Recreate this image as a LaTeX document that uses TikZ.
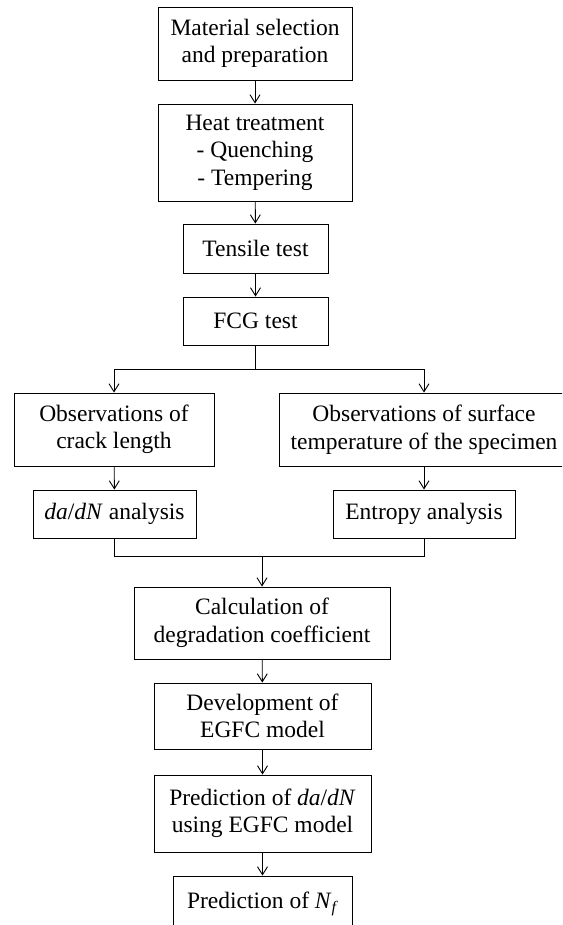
\documentclass[tikz,border=0pt]{standalone}
\usepackage{fontspec}
\setmainfont{Liberation Serif}
\usetikzlibrary{arrows.meta}
\begin{document}
\begin{tikzpicture}[x=1pt,y=1pt,
  box/.style={draw=black, line width=0.9pt, inner sep=0pt, align=center,
    font=\fontsize{23.5}{27.5}\selectfont, text=black},
  conn/.style={draw=black, line width=0.9pt},
  arr/.style={conn, -{Straight Barb[length=8pt,width=10pt]}}]
\useasboundingbox (0,0) rectangle (562,-925);
\clip (0,0) rectangle (562,-925);
\node[box, minimum width=194pt, minimum height=73pt] (mat) at (255,-43.5) {Material selection\\and preparation};
\node[box, minimum width=194pt, minimum height=97pt] (heat) at (255,-152.5) {Heat treatment\\- Quenching\\- Tempering};
\node[box, minimum width=145pt, minimum height=49pt] (tens) at (255.5,-248.5) {Tensile test};
\node[box, minimum width=145pt, minimum height=48pt] (fcg) at (255.5,-321) {FCG test};
\node[box, minimum width=200pt, minimum height=73pt] (obsc) at (114,-429.5) {Observations of\\crack length};
\node[box, minimum width=290pt, minimum height=73pt] (obst) at (424,-429.5) {Observations of surface\\temperature of the specimen};
\node[box, minimum width=163pt, minimum height=48pt] (dadn) at (114.5,-514) {\textit{da}/\textit{dN} analysis};
\node[box, minimum width=182pt, minimum height=48pt] (entr) at (424,-514) {Entropy analysis};
\node[box, minimum width=256pt, minimum height=72pt] (calc) at (262,-623) {Calculation of\\degradation coefficient};
\node[box, minimum width=217pt, minimum height=66pt] (dev) at (262.5,-716) {Development of\\EGFC model};
\node[box, minimum width=217pt, minimum height=77pt] (pred) at (262.5,-813.5) {Prediction of \textit{da}/\textit{dN}\\using EGFC model};
\node[box, minimum width=179pt, minimum height=56pt] (nf) at (262.5,-904) {Prediction of \textit{N}\raisebox{-0.35ex}{\fontsize{16}{16}\selectfont\textit{f}}};
\coordinate (split) at (255.5,-369);
\coordinate (merge) at (262,-556);
\draw[arr] (mat) -- (heat);
\draw[arr] (heat) -- (tens);
\draw[arr] (tens) -- (fcg);
\draw[conn] (fcg.south) -- (split);
\draw[arr] (split) -| (obsc.north);
\draw[arr] (split) -| (obst.north);
\draw[arr] (obsc) -- (dadn);
\draw[arr] (obst) -- (entr);
\draw[conn] (dadn.south) |- (merge);
\draw[conn] (entr.south) |- (merge);
\draw[arr] (merge) -- (calc.north);
\draw[arr] (calc) -- (dev);
\draw[arr] (dev) -- (pred);
\draw[arr] (pred) -- (nf);
\end{tikzpicture}
\end{document}
